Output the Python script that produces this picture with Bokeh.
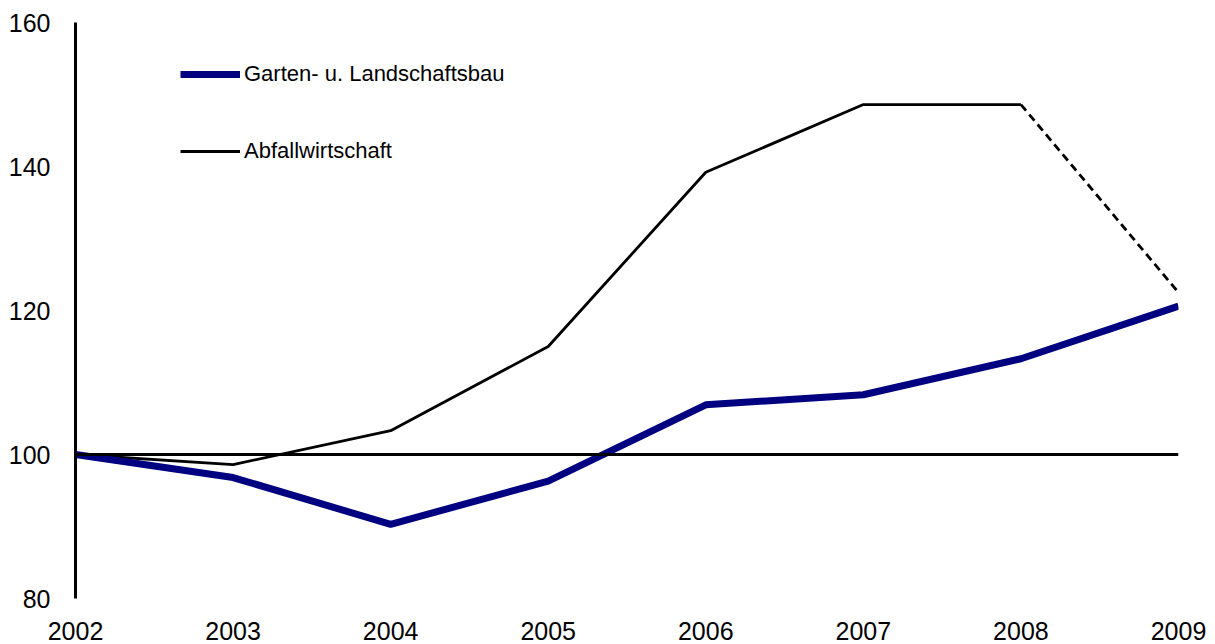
from bokeh.plotting import figure
from bokeh.models import Span, Legend, LegendItem, FixedTicker
from bokeh.embed import file_html
from bokeh.resources import INLINE

years = [2002, 2003, 2004, 2005, 2006, 2007, 2008, 2009]
garten = [100.0, 96.8, 90.3, 96.3, 106.9, 108.3, 113.3, 120.6]
abfall = [100.0, 98.6, 103.3, 115.0, 139.2, 148.6, 148.6, 122.5]
y_ticks = [80, 100, 120, 140, 160]
label_garten = "Garten- u. Landschaftsbau"
label_abfall = "Abfallwirtschaft"

FONT = "Liberation Sans"

p = figure(width=1215, height=644, output_backend="svg", toolbar_location=None,
           x_range=(2002, 2009), y_range=(80, 160),
           min_border_left=75, min_border_right=37, min_border_top=22, min_border_bottom=46)
p.outline_line_color = None
p.xgrid.visible = False
p.ygrid.visible = False
p.background_fill_color = "white"
p.border_fill_color = "white"

# y axis
p.yaxis.ticker = FixedTicker(ticks=y_ticks)
p.yaxis.axis_line_width = 3
p.yaxis.axis_line_color = "black"
p.yaxis.major_tick_line_color = None
p.yaxis.minor_tick_line_color = None
p.yaxis.major_tick_out = 0
p.yaxis.major_tick_in = 0
p.yaxis.major_label_standoff = 25
p.yaxis.major_label_text_font = FONT
p.yaxis.major_label_text_font_size = "25px"
p.yaxis.major_label_text_color = "black"

# x axis
p.xaxis.ticker = FixedTicker(ticks=years)
p.xaxis.axis_line_color = None
p.xaxis.major_tick_line_color = None
p.xaxis.minor_tick_line_color = None
p.xaxis.major_tick_out = 0
p.xaxis.major_tick_in = 0
p.xaxis.major_label_standoff = 23
p.xaxis.major_label_text_font = FONT
p.xaxis.major_label_text_font_size = "25px"
p.xaxis.major_label_text_color = "black"

# reference line at 100
p.add_layout(Span(location=100, dimension="width", line_color="black", line_width=2.8))

# series
r_abfall = p.line(years[:7], abfall[:7], line_color="black", line_width=2.8)
p.line(years[6:], abfall[6:], line_color="black", line_width=2.8, line_dash="8 5")
r_garten = p.line(years, garten, line_color="#000080", line_width=7, line_join="round")

legend = Legend(items=[LegendItem(label=label_garten, renderers=[r_garten]),
                       LegendItem(label=label_abfall, renderers=[r_abfall])],
                location=(105, 434), orientation="vertical",
                glyph_width=60, glyph_height=26, label_height=26, spacing=51,
                label_standoff=4, padding=10,
                label_text_font=FONT, label_text_font_size="22px",
                label_text_color="black",
                border_line_color=None, background_fill_alpha=0)
p.add_layout(legend)

open("out.html", "w").write(file_html(p, INLINE))
